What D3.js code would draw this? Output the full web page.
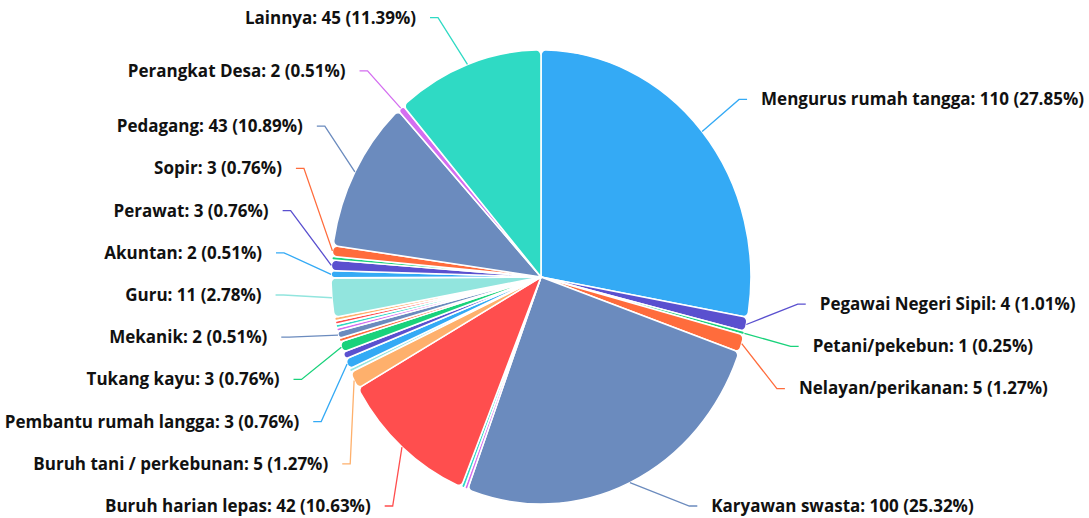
<!DOCTYPE html>
<html>
<head>
<meta charset="utf-8">
<script src="https://cdn.jsdelivr.net/npm/d3@7"></script>
<style>
  html, body { margin: 0; padding: 0; background: #ffffff; }
  svg { display: block; }
  .lbl { font-family: "Open Sans", "Noto Sans", sans-serif; font-weight: 700; fill: #111; }
</style>
</head>
<body>
<svg id="chart" width="1089" height="518"></svg>
<script>
// ---------------- data ----------------
// null = slice whose label is hidden in the reference (name not readable)
const categories = [
  "Mengurus rumah tangga", "Pegawai Negeri Sipil", "Petani/pekebun", "Nelayan/perikanan",
  "Karyawan swasta", null, null, "Buruh harian lepas", "Buruh tani / perkebunan", null,
  "Pembantu rumah langga", null, "Tukang kayu", null, "Mekanik", null, null, null, null,
  "Guru", "Akuntan", "Perawat", null, "Sopir", "Pedagang", "Perangkat Desa", "Lainnya"
];
const values = [
  110, 4, 1, 5,
  100, 1, 1, 42, 5, 1,
  3, 2, 3, 1, 2, 1, 1, 1, 1,
  11, 2, 3, 1, 3, 43, 2, 45
];
const palette = [
  "#34aaf5", "#5a50cf", "#19d27b", "#ff6c3c", "#6b8bbe",
  "#d46ef0", "#2fdac4", "#ff4e4e", "#feb06c", "#92e5de"
];

// ---------------- layout ----------------
const W = 1089, H = 518;
const cx = 541, cy = 277, r = 227, sx = 0.925;   // pie is horizontally squeezed
const labelR = 277;          // natural label radius
const lineSpacing = 42.2;    // min vertical distance between labels
const minY = 12, maxY = 506;
const ellX = 302, ellY = 297, lineInset = 44, len2 = 8, textGap = 14;

const svg = d3.select("#chart");
const total = d3.sum(values);
const data = values.map((v, i) => ({ name: categories[i], value: v, color: palette[i % palette.length] }));

const pie = d3.pie().sort(null).value(d => d.value);
const arcs = pie(data);
const arc = d3.arc().innerRadius(0).outerRadius(r).cornerRadius(5);

const g = svg.append("g").attr("transform", `translate(${cx},${cy}) scale(${sx},1)`);
g.selectAll("path.slice").data(arcs).enter().append("path")
  .attr("class", "slice")
  .attr("d", arc)
  .attr("fill", d => d.data.color)
  .attr("stroke", "#ffffff")
  .attr("stroke-width", 1.6)
  .attr("vector-effect", "non-scaling-stroke")
  .attr("stroke-linejoin", "round");

// labels
const labels = arcs.filter(d => d.data.name !== null).map(d => {
  const mid = (d.startAngle + d.endAngle) / 2;
  return {
    d, mid,
    side: Math.sin(mid) < 0 ? -1 : 1,
    y0: cy - labelR * Math.cos(mid)
  };
});

function layoutSide(items) {
  items.sort((a, b) => a.y0 - b.y0);
  let groups = items.map(it => ({ items: [it], sum: it.y0 }));
  const top = gr => {
    const n = gr.items.length;
    let t = gr.sum / n - (n - 1) * lineSpacing / 2;
    t = Math.min(t, maxY - (n - 1) * lineSpacing);
    t = Math.max(t, minY);
    return t;
  };
  let changed = true;
  while (changed) {
    changed = false;
    for (let i = 0; i < groups.length - 1; i++) {
      const a = groups[i], b = groups[i + 1];
      const aBottom = top(a) + (a.items.length - 1) * lineSpacing;
      if (top(b) - aBottom < lineSpacing - 1e-6) {
        groups.splice(i, 2, { items: a.items.concat(b.items), sum: a.sum + b.sum });
        changed = true;
        break;
      }
    }
  }
  groups.forEach(gr => {
    const t = top(gr);
    gr.items.forEach((it, k) => { it.y = t + k * lineSpacing; });
  });
}
layoutSide(labels.filter(l => l.side < 0));
layoutSide(labels.filter(l => l.side > 0));

labels.forEach(l => {
  const dy = l.y - cy;
  const f = Math.sqrt(Math.max(0, 1 - (dy * dy) / (ellY * ellY)));
  const d2 = ellX * f - lineInset;
  l.p1 = [cx + sx * r * Math.sin(l.mid), cy - r * Math.cos(l.mid)];
  l.p2 = [cx + l.side * d2, l.y];
  l.p3 = [cx + l.side * (d2 + len2), l.y];
  l.tx = cx + l.side * (d2 + len2 + textGap);
});

svg.append("g").selectAll("polyline").data(labels).enter().append("polyline")
  .attr("points", l => [l.p1, l.p2, l.p3].map(p => p.join(",")).join(" "))
  .attr("fill", "none")
  .attr("stroke", l => l.d.data.color)
  .attr("stroke-width", 1.3);

svg.append("g").selectAll("text").data(labels).enter().append("text")
  .attr("class", "lbl")
  .attr("x", l => l.tx)
  .attr("y", l => l.y)
  .attr("dy", "0.35em")
  .attr("text-anchor", l => l.side < 0 ? "end" : "start")
  .attr("font-size", 17)
  .text(l => `${l.d.data.name}: ${l.d.data.value} (${(l.d.data.value / total * 100).toFixed(2)}%)`);
</script>
</body>
</html>
